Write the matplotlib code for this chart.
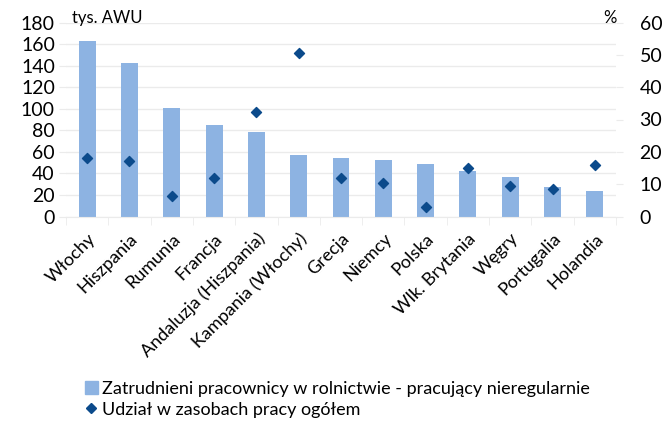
import numpy as np
import matplotlib.pyplot as plt
from matplotlib.lines import Line2D
from matplotlib.patches import Patch

plt.rcParams["font.family"] = ["Lato", "DejaVu Sans"]

# data
kraje = ["Włochy", "Hiszpania", "Rumunia", "Francja", "Andaluzja (Hiszpania)",
         "Kampania (Włochy)", "Grecja", "Niemcy", "Polska", "Wlk. Brytania",
         "Węgry", "Portugalia", "Holandia"]
pracownicy = [163, 142, 101, 85, 78, 57, 54, 52, 49, 42, 37, 27, 24]
udzial = [18.2, 17.3, 6.2, 12.0, 32.3, 50.5, 12.0, 10.4, 3.0, 15.0, 9.4, 8.6, 16.0]

bar_col = "#8DB3E2"
pt_col = "#0B4A8B"
grid_col = "#EBEBEB"

fig = plt.figure(figsize=(6.71, 4.21), dpi=100)
ax = fig.add_axes([66 / 671, 1 - 216.5 / 421, 550 / 671, 194 / 421])
ax2 = ax.twinx()

x = np.arange(len(kraje))
ax.bar(x, pracownicy, width=0.4, color=bar_col, zorder=2)
ax2.scatter(x, udzial, marker="D", s=26, color=pt_col, zorder=3)

ax.set_xlim(-0.5, len(kraje) - 0.5)
ax.set_ylim(0, 180)
ax2.set_ylim(0, 60)
ax.set_yticks(np.arange(0, 181, 20))
ax2.set_yticks(np.arange(0, 61, 10))
ax.grid(axis="y", color=grid_col, lw=1, zorder=0)
ax.set_axisbelow(True)

for a in (ax, ax2):
    for s in a.spines.values():
        s.set_visible(False)
ax.spines["bottom"].set_visible(True)
ax.spines["bottom"].set_color(grid_col)

ax.tick_params(axis="y", length=5, color=grid_col, labelsize=14, pad=3)
ax2.tick_params(axis="y", length=5, color=grid_col, labelsize=14, pad=12)

ax.set_xticks(x)
ax.set_xticklabels(kraje, rotation=45, ha="right", va="top",
                   rotation_mode="anchor", fontsize=13)
ax.tick_params(axis="x", length=0, pad=10)
ax.set_xticks(np.arange(-0.5, len(kraje), 1), minor=True)
ax.tick_params(axis="x", which="minor", length=6, color=grid_col)

fig.text(72 / 671, 1 - 18 / 421, "tys. AWU", fontsize=12, va="center")
fig.text(603 / 671, 1 - 18 / 421, "%", fontsize=12, va="center")

handles = [Patch(color=bar_col),
           Line2D([], [], marker="D", ls="none", color=pt_col, markersize=5.5)]
labels = ["Zatrudnieni pracownicy w rolnictwie - pracujący nieregularnie",
          "Udział w zasobach pracy ogółem"]
fig.legend(handles, labels, loc="upper left", bbox_to_anchor=(76 / 671, 1 - 372 / 421),
           frameon=False, fontsize=13, handlelength=0.7, handletextpad=0.25,
           labelspacing=0.25, borderpad=0)

fig.savefig("out.png", dpi=100)
